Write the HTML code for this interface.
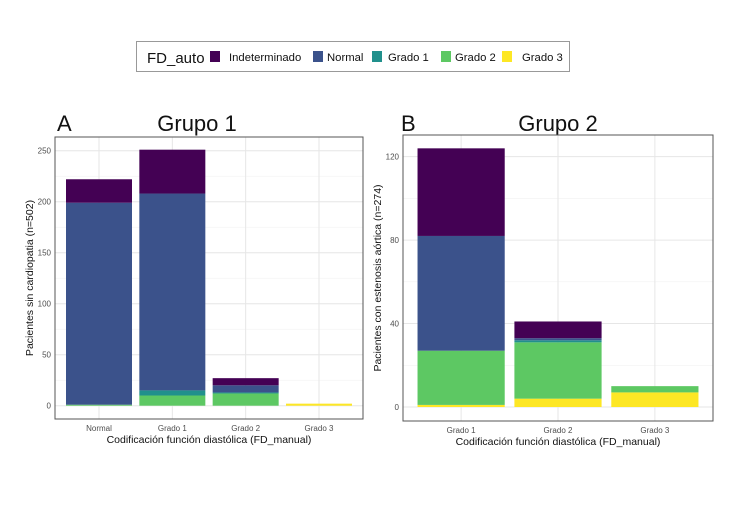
<!DOCTYPE html>
<html><head><meta charset="utf-8"><style>
body{margin:0;background:#fff;width:750px;height:500px;overflow:hidden;font-family:"Liberation Sans",sans-serif}
</style></head><body>
<svg id="svg" width="750" height="500" xmlns="http://www.w3.org/2000/svg">
<g>
<rect x="136.5" y="41.5" width="433" height="30" fill="#fff" stroke="#999"/>
<text x="147" y="63" font-size="15" fill="#111">FD_auto</text>
<rect x="210" y="51" width="10" height="11" fill="#440154"/>
<text x="229" y="61" font-size="11.3" fill="#111">Indeterminado</text>
<rect x="313" y="51" width="10" height="11" fill="#3b528b"/>
<text x="327" y="61" font-size="11.3" fill="#111">Normal</text>
<rect x="372" y="51" width="10" height="11" fill="#21908c"/>
<text x="388" y="61" font-size="11.3" fill="#111">Grado 1</text>
<rect x="441" y="51" width="10" height="11" fill="#5dc863"/>
<text x="455" y="61" font-size="11.3" fill="#111">Grado 2</text>
<rect x="502" y="51" width="10" height="11" fill="#fde725"/>
<text x="522" y="61" font-size="11.3" fill="#111">Grado 3</text>
</g>
<text x="57" y="131" font-size="22" fill="#111">A</text>
<text x="197" y="131" font-size="22" fill="#111" text-anchor="middle">Grupo 1</text>
<text x="401" y="131" font-size="22" fill="#111">B</text>
<text x="558" y="131" font-size="22" fill="#111" text-anchor="middle">Grupo 2</text>
<g id="pa"></g>
<g id="pb"></g>
</svg>
<script>
const colors = ["#440154","#3b528b","#21908c","#5dc863","#fde725"];
// Panel A
const catsA = ["Normal","Grado 1","Grado 2","Grado 3"];
const indetA = [23,43,7,0];
const normalA = [198,193,7,0];
const g1A = [0,5,1,0];
const g2A = [1,10,12,0];
const g3A = [0,0,0,2];
const ticksA = [0,50,100,150,200,250];
// Panel B
const catsB = ["Grado 1","Grado 2","Grado 3"];
const indetB = [42,8,0];
const normalB = [55,1,0];
const g1B = [0,1,0];
const g2B = [26,27,3];
const g3B = [1,4,7];
const ticksB = [0,40,80,120];

const NS="http://www.w3.org/2000/svg";
function mk(p,tag,at){const e=document.createElementNS(NS,tag);for(const k in at)e.setAttribute(k,at[k]);p.appendChild(e);return e;}

function panel(g,o){
  const {L,R,T,B,y0,ppu,cats,series,ticks,ylab}=o;
  const y=v=>y0-v*ppu;
  const step=(R-L)/(cats.length+0.2);
  const x=i=>L+step*(0.6+i);
  const bw=step*0.9;
  const bg=mk(g,'rect',{x:L,y:T,width:R-L,height:B-T,fill:'#fff'});
  
  
  for(let i=0;i<ticks.length;i++){
    const v=ticks[i];
    const gl=mk(g,'line',{x1:L,x2:R,y1:y(v),y2:y(v),stroke:'#e6e6e6','stroke-width':1});
    
    
    if(i<ticks.length-1){const m=(v+ticks[i+1])/2;
      const gm=mk(g,'line',{x1:L,x2:R,y1:y(m),y2:y(m),stroke:'#f2f2f2','stroke-width':0.6});
      
      }
    const t=mk(g,'text',{x:L-4,y:y(v)+3,'font-size':8,fill:'#4d4d4d','text-anchor':'end'});t.textContent=v;
    
    
  }
  cats.forEach((c,i)=>{
    const gl=mk(g,'line',{x1:x(i),x2:x(i),y1:T,y2:B,stroke:'#e6e6e6','stroke-width':1});
    
    
  });
  cats.forEach((c,i)=>{
    let acc=0;
    const order=[4,3,2,1,0];
    order.forEach(s=>{
      const v=series[s][i]; if(!v)return;
      const r=mk(g,'rect',{x:x(i)-bw/2,y:y(acc+v),width:bw,height:v*ppu,fill:colors[s]});
      
      
      acc+=v;
    });
    const t=mk(g,'text',{x:x(i),y:B+12,'font-size':8,fill:'#4d4d4d','text-anchor':'middle'});t.textContent=c;
    
    
  });
  const bd=mk(g,'rect',{x:L,y:T,width:R-L,height:B-T,fill:'none',stroke:'#555','stroke-width':1});
  
  
  const xt=mk(g,'text',{x:(L+R)/2,y:B+24,'font-size':10.5,fill:'#111','text-anchor':'middle'});xt.textContent='Codificación función diastólica (FD_manual)';
  
  
  const yt=mk(g,'text',{x:0,y:0,'font-size':10.5,fill:'#111','text-anchor':'middle',transform:`translate(${L-22},${(T+B)/2}) rotate(-90)`});yt.textContent=ylab;
  
  
}
panel(document.getElementById('pa'),{L:55,R:363,T:137,B:419,y0:405.7,ppu:1.02,cats:catsA,series:[indetA,normalA,g1A,g2A,g3A],ticks:ticksA,ylab:'Pacientes sin cardiopatia (n=502)'});
panel(document.getElementById('pb'),{L:403,R:713,T:135,B:421,y0:407,ppu:2.086,cats:catsB,series:[indetB,normalB,g1B,g2B,g3B],ticks:ticksB,ylab:'Pacientes con estenosis aórtica (n=274)'});
</script>
</body></html>
